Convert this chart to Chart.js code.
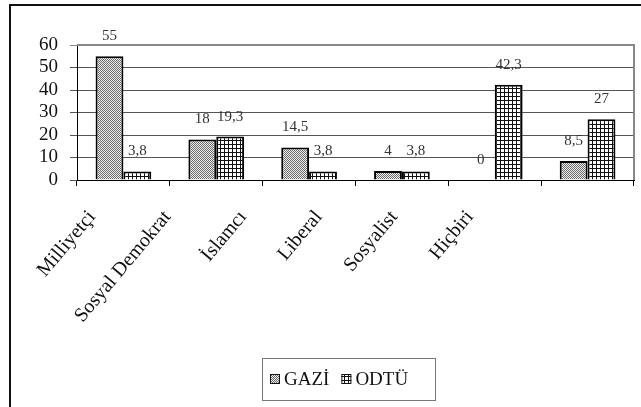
<!DOCTYPE html>
<html>
<head>
<meta charset="utf-8">
<script src="https://cdn.jsdelivr.net/npm/chart.js@4.4.0/dist/chart.umd.min.js"></script>
<style>
html,body{margin:0;padding:0;background:#fff;}
#wrap{width:641px;height:407px;position:relative;}
</style>
</head>
<body>
<div id="wrap"><canvas id="c" width="641" height="407"></canvas></div>
<script>
const categories = ["Milliyetçi", "Sosyal Demokrat", "İslamcı", "Liberal", "Sosyalist", "Hiçbiri"];
const gaziValues = [55, 18, 14.5, 4, 0, 8.5];
const odtuValues = [3.8, 19.3, 3.8, 3.8, 42.3, 27];
const seriesNames = ["GAZİ", "ODTÜ"];
const yTicks = [0, 10, 20, 30, 40, 50, 60];

const SERIF = "'Liberation Serif', 'Times New Roman', serif";
const LABEL_MIN = -0.198, LABEL_MAX = 7.17;

function dotPattern() {
  const c = document.createElement('canvas');
  c.width = 2; c.height = 2;
  const x = c.getContext('2d');
  x.fillStyle = '#ececec'; x.fillRect(0, 0, 2, 2);
  x.fillStyle = '#6e6e6e'; x.fillRect(0, 0, 1, 1); x.fillRect(1, 1, 1, 1);
  return x.createPattern(c, 'repeat');
}
function gridPattern() {
  const c = document.createElement('canvas');
  c.width = 4; c.height = 4;
  const x = c.getContext('2d');
  x.fillStyle = '#ffffff'; x.fillRect(0, 0, 4, 4);
  x.fillStyle = '#111111'; x.fillRect(0, 0, 4, 1); x.fillRect(0, 0, 1, 4);
  return x.createPattern(c, 'repeat');
}
const patterns = [dotPattern(), gridPattern()];

const framePlugin = {
  id: 'frame',
  beforeDraw(chart) {
    const ctx = chart.ctx;
    ctx.save();
    ctx.strokeStyle = '#111';
    ctx.lineWidth = 2;
    ctx.beginPath();
    ctx.moveTo(10, 407); ctx.lineTo(10, 5); ctx.lineTo(641, 5);
    ctx.stroke();
    ctx.restore();
  },
  afterDraw(chart) {
    const ctx = chart.ctx;
    const a = chart.chartArea;
    ctx.save();
    ctx.strokeStyle = '#888';
    ctx.lineWidth = 2;
    ctx.beginPath();
    ctx.moveTo(a.left, a.top); ctx.lineTo(a.right, a.top); ctx.lineTo(a.right, a.bottom);
    ctx.stroke();
    // legend
    const lx = 262, ly = 358, lw = 173, lh = 42;
    ctx.strokeStyle = '#777';
    ctx.lineWidth = 1;
    ctx.strokeRect(lx + 0.5, ly + 0.5, lw, lh);
    ctx.font = '19px ' + SERIF;
    ctx.textBaseline = 'middle';
    ctx.textAlign = 'left';
    ctx.fillStyle = '#111';
    let x = lx + 8;
    const cy = ly + lh / 2;
    chart.data.datasets.forEach((ds, i) => {
      ctx.fillStyle = ds.backgroundColor;
      ctx.fillRect(x, cy - 5, 10, 10);
      ctx.strokeStyle = '#111';
      ctx.lineWidth = 1;
      ctx.strokeRect(x + 0.5, cy - 4.5, 9, 9);
      ctx.fillStyle = '#111';
      ctx.fillText(ds.label, x + 14, cy + 1);
      x += 14 + ctx.measureText(ds.label).width + 12;
    });
    ctx.restore();
  },
  afterDatasetsDraw(chart) {
    const ctx = chart.ctx;
    ctx.save();
    ctx.font = '15px ' + SERIF;
    ctx.fillStyle = '#333';
    ctx.textAlign = 'center';
    ctx.textBaseline = 'middle';
    chart.data.datasets.forEach((ds, di) => {
      const meta = chart.getDatasetMeta(di);
      meta.data.forEach((el, i) => {
        const txt = String(ds.data[i]).replace('.', ',');
        ctx.fillText(txt, el.x, el.y - 20);
      });
    });
    ctx.restore();
  }
};

new Chart(document.getElementById('c'), {
  type: 'bar',
  data: {
    labels: categories,
    datasets: [
      { label: seriesNames[0], data: gaziValues, backgroundColor: patterns[0], borderColor: '#000', borderWidth: 2, xAxisID: 'x' },
      { label: seriesNames[1], data: odtuValues, backgroundColor: patterns[1], borderColor: '#000', borderWidth: 2, xAxisID: 'x' }
    ]
  },
  options: {
    responsive: false,
    animation: false,
    layout: { padding: { top: 45, right: 7, left: 0, bottom: 0 } },
    datasets: { bar: { categoryPercentage: 0.6, barPercentage: 1.0 } },
    plugins: { legend: { display: false }, tooltip: { enabled: false } },
    scales: {
      x: {
        type: 'category',
        offset: true,
        grid: { offset: true, drawOnChartArea: false, drawTicks: true, tickLength: 6, color: '#000', lineWidth: 1 },
        border: { color: '#000', width: 1 },
        ticks: { display: false },
        afterFit(s) { s.height = 6; }
      },
      x2: {
        type: 'linear',
        position: 'bottom',
        offset: false,
        bounds: 'data',
        min: LABEL_MIN,
        max: LABEL_MAX,
        grid: { display: false, offset: false },
        border: { display: false },
        afterBuildTicks(s) {
          s.min = LABEL_MIN;
          s.max = LABEL_MAX;
          s.ticks = categories.map((_, i) => ({ value: i }));
        },
        ticks: {
          autoSkip: false,
          minRotation: 50,
          maxRotation: 50,
          padding: 12,
          color: '#111',
          font: { family: SERIF, size: 20 },
          callback: (v) => categories[v] !== undefined ? categories[v] : ''
        },
        afterFit(s) { s.height = 221; }
      },
      y: {
        min: 0,
        max: 60,
        afterBuildTicks(s) { s.ticks = yTicks.map(v => ({ value: v })); },
        grid: {
          color: (c) => (c.tick && c.tick.value === 60) ? '#888' : '#555',
          lineWidth: 1,
          tickLength: 7,
          drawTicks: true
        },
        border: { color: '#000', width: 1 },
        ticks: { autoSkip: false, padding: 12, color: '#111', font: { family: SERIF, size: 19 } },
        afterFit(s) { s.width = 77; }
      }
    }
  },
  plugins: [framePlugin]
});
</script>
</body>
</html>
